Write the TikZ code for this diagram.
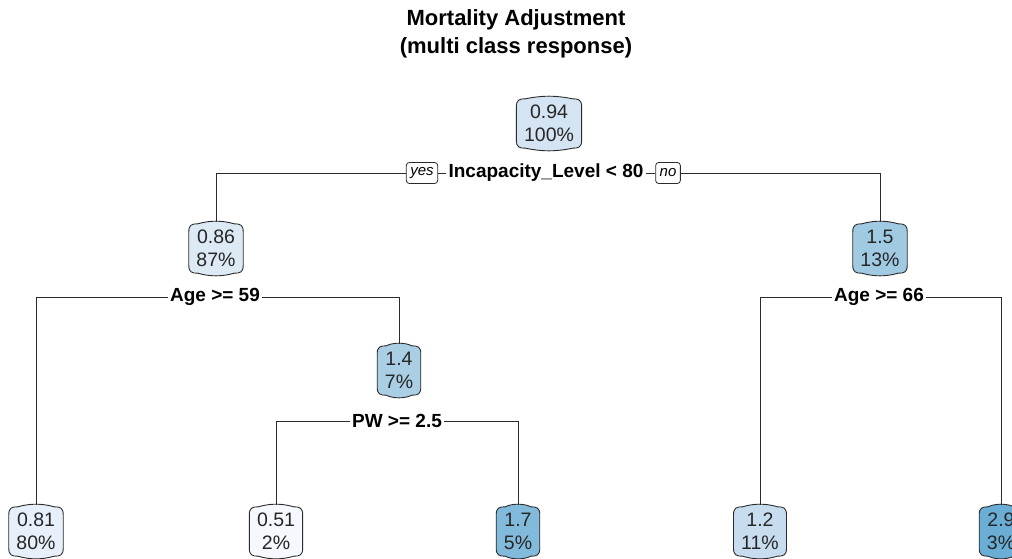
\documentclass[tikz,border=0pt]{standalone}
\usepackage{fontspec}
\setmainfont{Liberation Sans}
\usetikzlibrary{backgrounds}
\definecolor{c094}{HTML}{D5E4F2}
\definecolor{c086}{HTML}{DDEAF6}
\definecolor{c081}{HTML}{E7F0FA}
\definecolor{c051}{HTML}{F5F9FE}
\definecolor{c12}{HTML}{C8DCF0}
\definecolor{c14}{HTML}{AACFE5}
\definecolor{c15}{HTML}{9FCAE2}
\definecolor{c17}{HTML}{82BADB}
\definecolor{c29}{HTML}{6AADD5}
\definecolor{linec}{HTML}{2B2B2B}
\tikzset{
  tnode/.style={align=center, minimum height=53pt, inner xsep=7.5pt, inner ysep=2pt,
    text=black!85, font=\fontsize{19.5}{23}\selectfont},
  splitlabel/.style={fill=white, inner xsep=2pt, inner ysep=1pt,
    font=\bfseries\fontsize{19}{22}\selectfont},
  yesno/.style={draw=linec, fill=white, rounded corners=3pt, inner xsep=4pt, inner ysep=2pt,
    minimum height=21pt, font=\itshape\fontsize{15}{17}\selectfont, line width=0.8pt},
  conn/.style={draw=linec, line width=0.9pt},
  nodeline/.style={draw=linec, line width=0.9pt}
}
\newcommand\barrel[2]{%
  \draw[nodeline, fill=#2] ([yshift=-10pt]#1.north west) .. controls ([yshift=-3pt]#1.north west) and ([xshift=3pt,yshift=-2pt]#1.north west) .. ([xshift=9pt,yshift=-2pt]#1.north west)
    .. controls ([xshift=-6pt,yshift=1.5pt]#1.north) and ([xshift=6pt,yshift=1.5pt]#1.north) .. ([xshift=-9pt,yshift=-2pt]#1.north east)
    .. controls ([xshift=-3pt,yshift=-2pt]#1.north east) and ([yshift=-3pt]#1.north east) .. ([yshift=-10pt]#1.north east)
    -- ([yshift=10pt]#1.south east) .. controls ([yshift=3pt]#1.south east) and ([xshift=-3pt,yshift=2pt]#1.south east) .. ([xshift=-9pt,yshift=2pt]#1.south east)
    .. controls ([xshift=6pt,yshift=-1.5pt]#1.south) and ([xshift=-6pt,yshift=-1.5pt]#1.south) .. ([xshift=9pt,yshift=2pt]#1.south west)
    .. controls ([xshift=3pt,yshift=2pt]#1.south west) and ([yshift=3pt]#1.south west) .. ([yshift=10pt]#1.south west) -- cycle;}
\begin{document}
\begin{tikzpicture}[x=1pt,y=-1pt]
\clip (0,0) rectangle (1012,558);
\useasboundingbox (0,0) rectangle (1012,558);
\node[font=\bfseries\fontsize{22}{28}\selectfont, align=center] (title) at (516,34) {Mortality Adjustment\\(multi class response)};
% nodes
\node[tnode] (root) at (549,123.5) {0.94\\100\%};
\node[tnode] (n2) at (216,248.5) {0.86\\87\%};
\node[tnode] (n3) at (880,248.5) {1.5\\13\%};
\node[tnode] (n4) at (399,370.5) {1.4\\7\%};
\node[tnode] (l1) at (36,531.5) {0.81\\80\%};
\node[tnode] (l2) at (276,531.5) {0.51\\2\%};
\node[tnode] (l3) at (518,531.5) {1.7\\5\%};
\node[tnode] (l4) at (760,531.5) {1.2\\11\%};
\node[tnode] (l5) at (1001,531.5) {2.9\\3\%};
\begin{scope}[on background layer]
\fill[white] (0,0) rectangle (1012,558);
\barrel{root}{c094}
\barrel{n2}{c086}
\barrel{n3}{c15}
\barrel{n4}{c14}
\barrel{l1}{c081}
\barrel{l2}{c051}
\barrel{l3}{c17}
\barrel{l4}{c12}
\barrel{l5}{c29}
\end{scope}
% split labels
\node[splitlabel] (s1) at (546,173) {Incapacity\_Level < 80};
\node[yesno] (yes) at (422,173) {yes};
\node[yesno] (no) at (668,173) {no};
\node[splitlabel] (s2) at (215,297) {Age >= 59};
\node[splitlabel] (s3) at (879,297) {Age >= 66};
\node[splitlabel] (s4) at (397,421) {PW >= 2.5};
% connectors
\draw[conn] (n2.north) |- (yes.west);
\draw[conn] (yes.east) -- (s1.west);
\draw[conn] (s1.east) -- (no.west);
\draw[conn] (no.east) -| (n3.north);
\draw[conn] (l1.north) |- (s2.west);
\draw[conn] (s2.east) -| (n4.north);
\draw[conn] (l4.north) |- (s3.west);
\draw[conn] (s3.east) -| (l5.north);
\draw[conn] (l2.north) |- (s4.west);
\draw[conn] (s4.east) -| (l3.north);
\end{tikzpicture}
\end{document}
